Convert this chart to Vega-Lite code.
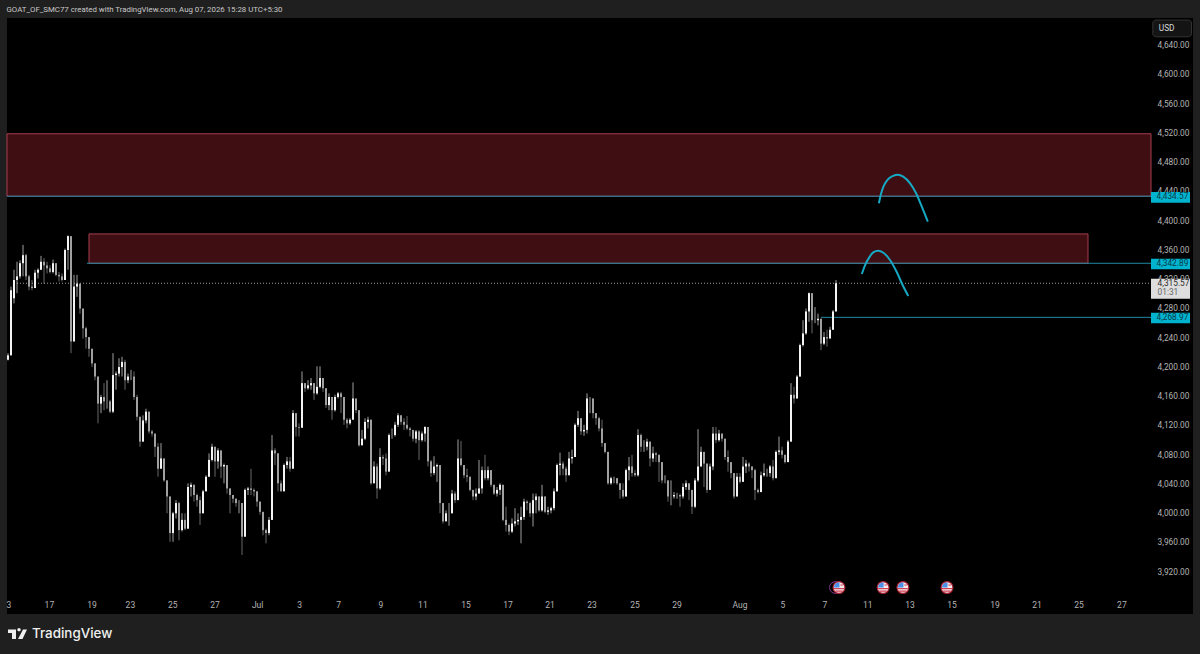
{
"$schema":"https://vega.github.io/schema/vega-lite/v6.json",
"width":1200,"height":654,
"autosize":{"type":"fit","contains":"padding"},
"padding":0,
"background":"#1f1f1f",
"config":{"view":{"stroke":null},"text":{"font":"Roboto"}},
"datasets":{
"panel":[{"i":-0.33,"i2":395,"p":4678.3,"p2":3863.3}],
"zones":[{"i":-0.33,"i2":381,"p":4520,"p2":4434.57},{"i":27,"i2":360,"p":4383,"p2":4342.89}],
"levels":[{"i":-0.33,"i2":381,"p":4434.57},{"i":26.3,"i2":381,"p":4342.89},{"i":271,"i2":381,"p":4268.97}],
"last":[{"i":2,"i2":381,"p":4315.57}],
"arcs":[
{"arc":"a","n":1,"i":290.3,"p":4424.9},{"arc":"a","n":2,"i":290.9,"p":4436.2},{"arc":"a","n":3,"i":291.8,"p":4447.6},{"arc":"a","n":4,"i":293.1,"p":4456.7},{"arc":"a","n":5,"i":294.9,"p":4462.2},{"arc":"a","n":6,"i":296.6,"p":4464},{"arc":"a","n":7,"i":298.4,"p":4461.3},{"arc":"a","n":8,"i":300.7,"p":4452.2},{"arc":"a","n":9,"i":302.7,"p":4438.6},{"arc":"a","n":10,"i":304.6,"p":4420.2},{"arc":"a","n":11,"i":306.6,"p":4399.7},
{"arc":"b","n":1,"i":284.6,"p":4328.2},{"arc":"b","n":2,"i":285.7,"p":4340.5},{"arc":"b","n":3,"i":287.1,"p":4351},{"arc":"b","n":4,"i":288.4,"p":4357.9},{"arc":"b","n":5,"i":290.1,"p":4360.1},{"arc":"b","n":6,"i":291.8,"p":4357.3},{"arc":"b","n":7,"i":294,"p":4347.4},{"arc":"b","n":8,"i":296.2,"p":4331.3},{"arc":"b","n":9,"i":298.2,"p":4313.2},{"arc":"b","n":10,"i":300.1,"p":4298.1}],
"priceTicks":[{"i":383.2,"p":4640,"label":"4,640.00"},{"i":383.2,"p":4600,"label":"4,600.00"},{"i":383.2,"p":4560,"label":"4,560.00"},{"i":383.2,"p":4520,"label":"4,520.00"},{"i":383.2,"p":4480,"label":"4,480.00"},{"i":383.2,"p":4440,"label":"4,440.00"},{"i":383.2,"p":4400,"label":"4,400.00"},{"i":383.2,"p":4360,"label":"4,360.00"},{"i":383.2,"p":4320,"label":"4,320.00"},{"i":383.2,"p":4280,"label":"4,280.00"},{"i":383.2,"p":4240,"label":"4,240.00"},{"i":383.2,"p":4200,"label":"4,200.00"},{"i":383.2,"p":4160,"label":"4,160.00"},{"i":383.2,"p":4120,"label":"4,120.00"},{"i":383.2,"p":4080,"label":"4,080.00"},{"i":383.2,"p":4040,"label":"4,040.00"},{"i":383.2,"p":4000,"label":"4,000.00"},{"i":383.2,"p":3960,"label":"3,960.00"},{"i":383.2,"p":3920,"label":"3,920.00"}],
"badges":[{"i":381,"i2":394,"p":4440.3,"p2":4425.7,"label":"4,434.57","tp":4433},{"i":381,"i2":394,"p":4349.1,"p2":4334.6,"label":"4,342.89","tp":4341.9},{"i":381,"i2":394,"p":4275.3,"p2":4260.8,"label":"4,268.97","tp":4268}],
"lastBox":[{"i":381,"i2":394,"p":4321.8,"p2":4294.4}],
"lastText":[{"i":383.2,"p":4315,"label":"4,315.57","kind":"price"},{"i":383.2,"p":4302.5,"label":"01:31","kind":"count"}],
"usd":[{"i":381.6,"i2":394.5,"p":4675.5,"p2":4652.6}],
"usdText":[{"i":383.6,"p":4663.2,"label":"USD"}],
"header":[{"i":-0.5,"p":4689.9,"label":"GOAT_OF_SMC77 created with TradingView.com, Aug 07, 2026 15:28 UTC+5:30"}],
"timeTicks":[{"i":0.3,"p":3875.6,"label":"3"},{"i":13.8,"p":3875.6,"label":"17"},{"i":28,"p":3875.6,"label":"19"},{"i":40.8,"p":3875.6,"label":"23"},{"i":54.9,"p":3875.6,"label":"25"},{"i":69,"p":3875.6,"label":"27"},{"i":83.2,"p":3875.6,"label":"Jul"},{"i":97.2,"p":3875.6,"label":"3"},{"i":110.2,"p":3875.6,"label":"7"},{"i":124.3,"p":3875.6,"label":"9"},{"i":138.3,"p":3875.6,"label":"11"},{"i":152.7,"p":3875.6,"label":"15"},{"i":166.7,"p":3875.6,"label":"17"},{"i":180.7,"p":3875.6,"label":"21"},{"i":194.7,"p":3875.6,"label":"23"},{"i":209,"p":3875.6,"label":"25"},{"i":223,"p":3875.6,"label":"29"},{"i":244,"p":3875.6,"label":"Aug"},{"i":258.3,"p":3875.6,"label":"5"},{"i":272.3,"p":3875.6,"label":"7"},{"i":286.6,"p":3875.6,"label":"11"},{"i":300.7,"p":3875.6,"label":"13"},{"i":314.7,"p":3875.6,"label":"15"},{"i":329,"p":3875.6,"label":"19"},{"i":343,"p":3875.6,"label":"21"},{"i":357,"p":3875.6,"label":"25"},{"i":371.3,"p":3875.6,"label":"27"}],
"eventsPast":[{"i":275.8,"p":3899.5}],
"events":[{"i":277,"p":3899.5},{"i":291.7,"p":3899.5},{"i":298.3,"p":3899.5},{"i":313,"p":3899.5}],
"brand":[{"i":3.17,"p":3835.9}],
"brandText":[{"i":8,"p":3835.9,"label":"TradingView"}],
"candles":[
{"i":0,"o":4211,"h":4220,"l":4210,"c":4217},{"i":1,"o":4217,"h":4311,"l":4217,"c":4306},{"i":2,"o":4295,"h":4334,"l":4288,"c":4320},{"i":3,"o":4320,"h":4345,"l":4302,"c":4325},{"i":4,"o":4325,"h":4347,"l":4322,"c":4343},{"i":5,"o":4343,"h":4368,"l":4325,"c":4354},{"i":6,"o":4354,"h":4356,"l":4320,"c":4325},{"i":7,"o":4325,"h":4327,"l":4306,"c":4311},{"i":8,"o":4311,"h":4320,"l":4306,"c":4309},{"i":9,"o":4309,"h":4334,"l":4309,"c":4330},
{"i":10,"o":4330,"h":4336,"l":4322,"c":4334},{"i":11,"o":4334,"h":4353,"l":4334,"c":4345},{"i":12,"o":4345,"h":4350,"l":4315,"c":4340},{"i":13,"o":4340,"h":4345,"l":4329,"c":4336},{"i":14,"o":4336,"h":4340,"l":4329,"c":4331},{"i":15,"o":4331,"h":4348,"l":4329,"c":4343},{"i":16,"o":4343,"h":4343,"l":4325,"c":4327},{"i":17,"o":4327,"h":4331,"l":4318,"c":4325},{"i":18,"o":4325,"h":4329,"l":4318,"c":4320},{"i":19,"o":4320,"h":4363,"l":4320,"c":4361},
{"i":20,"o":4361,"h":4381,"l":4334,"c":4380},{"i":21,"o":4380,"h":4380,"l":4220,"c":4236},{"i":22,"o":4236,"h":4327,"l":4236,"c":4311},{"i":23,"o":4311,"h":4327,"l":4297,"c":4315},{"i":24,"o":4315,"h":4315,"l":4274,"c":4281},{"i":25,"o":4281,"h":4281,"l":4240,"c":4254},{"i":26,"o":4254,"h":4256,"l":4226,"c":4242},{"i":27,"o":4242,"h":4242,"l":4215,"c":4226},{"i":28,"o":4226,"h":4226,"l":4201,"c":4206},{"i":29,"o":4206,"h":4206,"l":4183,"c":4188},
{"i":30,"o":4188,"h":4188,"l":4124,"c":4151},{"i":31,"o":4151,"h":4163,"l":4138,"c":4160},{"i":32,"o":4160,"h":4179,"l":4142,"c":4154},{"i":33,"o":4154,"h":4183,"l":4144,"c":4154},{"i":34,"o":4154,"h":4156,"l":4138,"c":4140},{"i":35,"o":4140,"h":4220,"l":4138,"c":4190},{"i":36,"o":4190,"h":4195,"l":4170,"c":4192},{"i":37,"o":4192,"h":4213,"l":4188,"c":4201},{"i":38,"o":4201,"h":4215,"l":4188,"c":4208},{"i":39,"o":4208,"h":4211,"l":4170,"c":4183},
{"i":40,"o":4183,"h":4192,"l":4179,"c":4188},{"i":41,"o":4188,"h":4197,"l":4183,"c":4188},{"i":42,"o":4188,"h":4195,"l":4156,"c":4160},{"i":43,"o":4160,"h":4163,"l":4128,"c":4133},{"i":44,"o":4133,"h":4133,"l":4092,"c":4099},{"i":45,"o":4099,"h":4135,"l":4099,"c":4128},{"i":46,"o":4128,"h":4144,"l":4124,"c":4140},{"i":47,"o":4140,"h":4140,"l":4110,"c":4113},{"i":48,"o":4113,"h":4115,"l":4106,"c":4110},{"i":49,"o":4110,"h":4110,"l":4078,"c":4092},
{"i":50,"o":4092,"h":4097,"l":4051,"c":4062},{"i":51,"o":4062,"h":4097,"l":4062,"c":4076},{"i":52,"o":4076,"h":4076,"l":4044,"c":4046},{"i":53,"o":4046,"h":4046,"l":4001,"c":4024},{"i":54,"o":4024,"h":4024,"l":3962,"c":3974},{"i":55,"o":3974,"h":4003,"l":3962,"c":4001},{"i":56,"o":4001,"h":4019,"l":3994,"c":4015},{"i":57,"o":4015,"h":4017,"l":3964,"c":3978},{"i":58,"o":3978,"h":4001,"l":3976,"c":3992},{"i":59,"o":3992,"h":4001,"l":3978,"c":3980},
{"i":60,"o":3980,"h":4042,"l":3980,"c":4037},{"i":61,"o":4037,"h":4043,"l":4024,"c":4040},{"i":62,"o":4040,"h":4040,"l":4017,"c":4026},{"i":63,"o":4026,"h":4028,"l":4010,"c":4019},{"i":64,"o":4019,"h":4024,"l":3985,"c":4001},{"i":65,"o":4001,"h":4033,"l":4001,"c":4031},{"i":66,"o":4031,"h":4053,"l":4031,"c":4051},{"i":67,"o":4051,"h":4083,"l":4051,"c":4074},{"i":68,"o":4074,"h":4096,"l":4072,"c":4092},{"i":69,"o":4092,"h":4092,"l":4051,"c":4072},
{"i":70,"o":4072,"h":4090,"l":4062,"c":4087},{"i":71,"o":4087,"h":4087,"l":4049,"c":4065},{"i":72,"o":4065,"h":4069,"l":4042,"c":4067},{"i":73,"o":4067,"h":4067,"l":4028,"c":4035},{"i":74,"o":4035,"h":4035,"l":4001,"c":4026},{"i":75,"o":4026,"h":4026,"l":4015,"c":4021},{"i":76,"o":4021,"h":4021,"l":4010,"c":4015},{"i":77,"o":4015,"h":4019,"l":4001,"c":4015},{"i":78,"o":4015,"h":4015,"l":3944,"c":3969},{"i":79,"o":3969,"h":4035,"l":3969,"c":4033},
{"i":80,"o":4033,"h":4037,"l":4026,"c":4035},{"i":81,"o":4035,"h":4062,"l":4026,"c":4033},{"i":82,"o":4033,"h":4035,"l":4024,"c":4031},{"i":83,"o":4031,"h":4031,"l":4010,"c":4017},{"i":84,"o":4017,"h":4017,"l":3999,"c":4003},{"i":85,"o":4003,"h":4003,"l":3971,"c":3978},{"i":86,"o":3978,"h":3980,"l":3960,"c":3974},{"i":87,"o":3974,"h":3996,"l":3971,"c":3992},{"i":88,"o":3992,"h":4108,"l":3992,"c":4087},{"i":89,"o":4087,"h":4090,"l":4067,"c":4083},
{"i":90,"o":4083,"h":4083,"l":4031,"c":4042},{"i":91,"o":4042,"h":4046,"l":4031,"c":4031},{"i":92,"o":4031,"h":4069,"l":4031,"c":4067},{"i":93,"o":4067,"h":4078,"l":4062,"c":4072},{"i":94,"o":4072,"h":4078,"l":4058,"c":4062},{"i":95,"o":4062,"h":4142,"l":4062,"c":4138},{"i":96,"o":4138,"h":4138,"l":4106,"c":4119},{"i":97,"o":4119,"h":4124,"l":4106,"c":4118},{"i":98,"o":4118,"h":4195,"l":4118,"c":4179},{"i":99,"o":4179,"h":4179,"l":4167,"c":4172},
{"i":100,"o":4172,"h":4183,"l":4170,"c":4176},{"i":101,"o":4176,"h":4186,"l":4170,"c":4179},{"i":102,"o":4179,"h":4179,"l":4156,"c":4165},{"i":103,"o":4165,"h":4202,"l":4163,"c":4174},{"i":104,"o":4174,"h":4202,"l":4172,"c":4186},{"i":105,"o":4186,"h":4186,"l":4167,"c":4172},{"i":106,"o":4172,"h":4172,"l":4145,"c":4149},{"i":107,"o":4149,"h":4165,"l":4142,"c":4160},{"i":108,"o":4160,"h":4160,"l":4129,"c":4142},{"i":109,"o":4142,"h":4163,"l":4140,"c":4160},
{"i":110,"o":4160,"h":4167,"l":4158,"c":4165},{"i":111,"o":4165,"h":4167,"l":4138,"c":4160},{"i":112,"o":4160,"h":4160,"l":4122,"c":4129},{"i":113,"o":4129,"h":4131,"l":4117,"c":4124},{"i":114,"o":4124,"h":4131,"l":4122,"c":4129},{"i":115,"o":4129,"h":4180,"l":4129,"c":4158},{"i":116,"o":4158,"h":4158,"l":4138,"c":4142},{"i":117,"o":4142,"h":4142,"l":4092,"c":4094},{"i":118,"o":4094,"h":4115,"l":4094,"c":4103},{"i":119,"o":4103,"h":4131,"l":4101,"c":4126},
{"i":120,"o":4126,"h":4133,"l":4117,"c":4129},{"i":121,"o":4129,"h":4129,"l":4040,"c":4042},{"i":122,"o":4042,"h":4072,"l":4042,"c":4065},{"i":123,"o":4065,"h":4069,"l":4021,"c":4035},{"i":124,"o":4035,"h":4090,"l":4033,"c":4078},{"i":125,"o":4078,"h":4081,"l":4067,"c":4076},{"i":126,"o":4076,"h":4083,"l":4053,"c":4058},{"i":127,"o":4058,"h":4110,"l":4058,"c":4108},{"i":128,"o":4108,"h":4117,"l":4103,"c":4108},{"i":129,"o":4108,"h":4126,"l":4106,"c":4122},
{"i":130,"o":4122,"h":4138,"l":4119,"c":4135},{"i":131,"o":4135,"h":4135,"l":4122,"c":4126},{"i":132,"o":4126,"h":4131,"l":4115,"c":4122},{"i":133,"o":4122,"h":4134,"l":4115,"c":4117},{"i":134,"o":4117,"h":4119,"l":4106,"c":4115},{"i":135,"o":4115,"h":4115,"l":4099,"c":4103},{"i":136,"o":4103,"h":4115,"l":4097,"c":4113},{"i":137,"o":4113,"h":4115,"l":4074,"c":4101},{"i":138,"o":4101,"h":4113,"l":4099,"c":4110},{"i":139,"o":4110,"h":4120,"l":4099,"c":4119},
{"i":140,"o":4119,"h":4119,"l":4065,"c":4072},{"i":141,"o":4072,"h":4074,"l":4051,"c":4056},{"i":142,"o":4056,"h":4079,"l":4053,"c":4065},{"i":143,"o":4065,"h":4069,"l":4044,"c":4067},{"i":144,"o":4067,"h":4067,"l":4001,"c":4015},{"i":145,"o":4015,"h":4015,"l":3987,"c":3990},{"i":146,"o":3990,"h":4005,"l":3990,"c":4001},{"i":147,"o":4001,"h":4015,"l":3984,"c":4001},{"i":148,"o":4001,"h":4033,"l":4001,"c":4028},{"i":149,"o":4028,"h":4031,"l":4015,"c":4019},
{"i":150,"o":4019,"h":4102,"l":4019,"c":4076},{"i":151,"o":4076,"h":4100,"l":4065,"c":4067},{"i":152,"o":4067,"h":4067,"l":4049,"c":4053},{"i":153,"o":4053,"h":4062,"l":4044,"c":4051},{"i":154,"o":4051,"h":4051,"l":4031,"c":4033},{"i":155,"o":4033,"h":4033,"l":4019,"c":4024},{"i":156,"o":4024,"h":4035,"l":4019,"c":4028},{"i":157,"o":4028,"h":4074,"l":4028,"c":4035},{"i":158,"o":4035,"h":4065,"l":4028,"c":4060},{"i":159,"o":4060,"h":4081,"l":4046,"c":4049},
{"i":160,"o":4049,"h":4065,"l":4046,"c":4060},{"i":161,"o":4060,"h":4060,"l":4037,"c":4040},{"i":162,"o":4040,"h":4040,"l":4026,"c":4028},{"i":163,"o":4028,"h":4037,"l":4024,"c":4033},{"i":164,"o":4033,"h":4042,"l":4026,"c":4040},{"i":165,"o":4040,"h":4040,"l":3990,"c":3992},{"i":166,"o":3992,"h":4010,"l":3976,"c":3985},{"i":167,"o":3985,"h":3987,"l":3971,"c":3976},{"i":168,"o":3976,"h":3994,"l":3974,"c":3987},{"i":169,"o":3987,"h":4008,"l":3983,"c":3990},
{"i":170,"o":3990,"h":4001,"l":3985,"c":3992},{"i":171,"o":3992,"h":4010,"l":3960,"c":3996},{"i":172,"o":3996,"h":4021,"l":3992,"c":4017},{"i":173,"o":4017,"h":4019,"l":4005,"c":4015},{"i":174,"o":4015,"h":4017,"l":3996,"c":4001},{"i":175,"o":4001,"h":4028,"l":3983,"c":4019},{"i":176,"o":4019,"h":4028,"l":4001,"c":4024},{"i":177,"o":4024,"h":4024,"l":4003,"c":4005},{"i":178,"o":4005,"h":4040,"l":4003,"c":4024},{"i":179,"o":4024,"h":4024,"l":4001,"c":4003},
{"i":180,"o":4003,"h":4010,"l":3999,"c":4005},{"i":181,"o":4005,"h":4010,"l":4001,"c":4008},{"i":182,"o":4008,"h":4035,"l":4005,"c":4031},{"i":183,"o":4031,"h":4069,"l":4031,"c":4067},{"i":184,"o":4067,"h":4084,"l":4053,"c":4069},{"i":185,"o":4069,"h":4072,"l":4053,"c":4062},{"i":186,"o":4062,"h":4065,"l":4044,"c":4053},{"i":187,"o":4053,"h":4085,"l":4053,"c":4076},{"i":188,"o":4076,"h":4088,"l":4069,"c":4078},{"i":189,"o":4078,"h":4124,"l":4078,"c":4122},
{"i":190,"o":4122,"h":4141,"l":4119,"c":4131},{"i":191,"o":4131,"h":4131,"l":4108,"c":4113},{"i":192,"o":4113,"h":4122,"l":4107,"c":4115},{"i":193,"o":4115,"h":4165,"l":4110,"c":4158},{"i":194,"o":4158,"h":4160,"l":4138,"c":4158},{"i":195,"o":4158,"h":4158,"l":4131,"c":4138},{"i":196,"o":4138,"h":4138,"l":4122,"c":4131},{"i":197,"o":4131,"h":4133,"l":4113,"c":4117},{"i":198,"o":4117,"h":4129,"l":4092,"c":4097},{"i":199,"o":4097,"h":4097,"l":4083,"c":4085},
{"i":200,"o":4085,"h":4085,"l":4040,"c":4042},{"i":201,"o":4042,"h":4051,"l":4040,"c":4049},{"i":202,"o":4049,"h":4051,"l":4042,"c":4049},{"i":203,"o":4049,"h":4049,"l":4040,"c":4042},{"i":204,"o":4042,"h":4042,"l":4021,"c":4033},{"i":205,"o":4033,"h":4042,"l":4021,"c":4024},{"i":206,"o":4024,"h":4062,"l":4024,"c":4060},{"i":207,"o":4060,"h":4078,"l":4046,"c":4065},{"i":208,"o":4065,"h":4081,"l":4051,"c":4056},{"i":209,"o":4056,"h":4060,"l":4051,"c":4053},
{"i":210,"o":4053,"h":4116,"l":4051,"c":4108},{"i":211,"o":4108,"h":4110,"l":4085,"c":4092},{"i":212,"o":4092,"h":4101,"l":4085,"c":4092},{"i":213,"o":4092,"h":4103,"l":4087,"c":4099},{"i":214,"o":4099,"h":4099,"l":4065,"c":4076},{"i":215,"o":4076,"h":4092,"l":4071,"c":4083},{"i":216,"o":4083,"h":4085,"l":4071,"c":4081},{"i":217,"o":4081,"h":4081,"l":4044,"c":4071},{"i":218,"o":4071,"h":4071,"l":4042,"c":4046},{"i":219,"o":4046,"h":4053,"l":4042,"c":4046},
{"i":220,"o":4046,"h":4046,"l":4017,"c":4024},{"i":221,"o":4024,"h":4046,"l":4012,"c":4024},{"i":222,"o":4024,"h":4030,"l":4021,"c":4026},{"i":223,"o":4026,"h":4029,"l":4021,"c":4026},{"i":224,"o":4026,"h":4028,"l":4010,"c":4024},{"i":225,"o":4024,"h":4042,"l":4021,"c":4037},{"i":226,"o":4037,"h":4046,"l":4033,"c":4042},{"i":227,"o":4042,"h":4042,"l":4019,"c":4033},{"i":228,"o":4033,"h":4033,"l":4000,"c":4010},{"i":229,"o":4010,"h":4049,"l":4008,"c":4046},
{"i":230,"o":4046,"h":4116,"l":4044,"c":4065},{"i":231,"o":4065,"h":4092,"l":4065,"c":4085},{"i":232,"o":4085,"h":4085,"l":4037,"c":4069},{"i":233,"o":4069,"h":4069,"l":4029,"c":4033},{"i":234,"o":4033,"h":4069,"l":4033,"c":4065},{"i":235,"o":4065,"h":4119,"l":4060,"c":4110},{"i":236,"o":4110,"h":4119,"l":4097,"c":4101},{"i":237,"o":4101,"h":4115,"l":4099,"c":4110},{"i":238,"o":4110,"h":4110,"l":4099,"c":4103},{"i":239,"o":4103,"h":4103,"l":4074,"c":4078},
{"i":240,"o":4078,"h":4087,"l":4058,"c":4071},{"i":241,"o":4071,"h":4071,"l":4049,"c":4056},{"i":242,"o":4056,"h":4056,"l":4021,"c":4024},{"i":243,"o":4024,"h":4056,"l":4024,"c":4051},{"i":244,"o":4051,"h":4056,"l":4042,"c":4044},{"i":245,"o":4044,"h":4078,"l":4044,"c":4065},{"i":246,"o":4065,"h":4074,"l":4056,"c":4069},{"i":247,"o":4069,"h":4071,"l":4058,"c":4065},{"i":248,"o":4065,"h":4065,"l":4049,"c":4060},{"i":249,"o":4060,"h":4062,"l":4019,"c":4033},
{"i":250,"o":4033,"h":4035,"l":4028,"c":4030},{"i":251,"o":4030,"h":4058,"l":4030,"c":4053},{"i":252,"o":4053,"h":4069,"l":4051,"c":4056},{"i":253,"o":4056,"h":4062,"l":4051,"c":4056},{"i":254,"o":4056,"h":4067,"l":4051,"c":4065},{"i":255,"o":4065,"h":4074,"l":4046,"c":4049},{"i":256,"o":4049,"h":4087,"l":4049,"c":4085},{"i":257,"o":4085,"h":4106,"l":4081,"c":4087},{"i":258,"o":4087,"h":4092,"l":4076,"c":4081},{"i":259,"o":4081,"h":4081,"l":4069,"c":4071},
{"i":260,"o":4071,"h":4101,"l":4071,"c":4099},{"i":261,"o":4099,"h":4179,"l":4099,"c":4163},{"i":262,"o":4163,"h":4174,"l":4151,"c":4158},{"i":263,"o":4158,"h":4190,"l":4158,"c":4188},{"i":264,"o":4188,"h":4233,"l":4188,"c":4231},{"i":265,"o":4231,"h":4265,"l":4229,"c":4247},{"i":266,"o":4247,"h":4281,"l":4245,"c":4277},{"i":267,"o":4277,"h":4303,"l":4263,"c":4302},{"i":268,"o":4302,"h":4302,"l":4247,"c":4265},{"i":269,"o":4265,"h":4283,"l":4261,"c":4265},
{"i":270,"o":4265,"h":4274,"l":4258,"c":4267},{"i":271,"o":4267,"h":4267,"l":4224,"c":4233},{"i":272,"o":4233,"h":4249,"l":4231,"c":4242},{"i":273,"o":4242,"h":4252,"l":4229,"c":4240},{"i":274,"o":4240,"h":4256,"l":4240,"c":4252},{"i":275,"o":4252,"h":4279,"l":4252,"c":4277},{"i":276,"o":4277,"h":4320,"l":4277,"c":4315.57}
]
},
"encoding":{
"x":{"field":"i","type":"quantitative","axis":null,"scale":{"domain":[-2.667,397.333],"nice":false,"zero":false}},
"y":{"field":"p","type":"quantitative","axis":null,"scale":{"domain":[3808.6,4702.9],"nice":false,"zero":false}}
},
"layer":[
{"data":{"name":"panel"},"mark":{"type":"rect","fill":"#000000"},"encoding":{"x2":{"field":"i2"},"y2":{"field":"p2"}}},
{"data":{"name":"zones"},"mark":{"type":"rect","fill":"#3f0e13","stroke":"#a83d4f","strokeWidth":1},"encoding":{"x2":{"field":"i2"},"y2":{"field":"p2"}}},
{"data":{"name":"levels"},"mark":{"type":"rule","stroke":"#1f8aa4","strokeWidth":1},"encoding":{"x2":{"field":"i2"}}},
{"data":{"name":"last"},"mark":{"type":"rule","stroke":"#9a9a9a","strokeWidth":1,"strokeDash":[1,2]},"encoding":{"x2":{"field":"i2"}}},
{"data":{"name":"candles"},"mark":{"type":"rule","strokeWidth":1,"opacity":0.65},"encoding":{
"y":{"field":"l","type":"quantitative","axis":null,"scale":{"domain":[3808.6,4702.9],"nice":false,"zero":false}},
"y2":{"field":"h"},
"color":{"condition":{"test":"datum.c>=datum.o","value":"#f4f4f4"},"value":"#a0a0a0"}}},
{"data":{"name":"candles"},"mark":{"type":"rule","strokeWidth":2},"encoding":{
"y":{"field":"o","type":"quantitative","axis":null,"scale":{"domain":[3808.6,4702.9],"nice":false,"zero":false}},
"y2":{"field":"c"},
"color":{"condition":{"test":"datum.c>=datum.o","value":"#f4f4f4"},"value":"#a0a0a0"}}},
{"data":{"name":"arcs"},"mark":{"type":"line","stroke":"#16a9c4","strokeWidth":2,"interpolate":"monotone"},"encoding":{"detail":{"field":"arc"},"order":{"field":"n"}}},
{"data":{"name":"priceTicks"},"mark":{"type":"text","align":"left","baseline":"middle","fontSize":8.3,"color":"#b4b4b4"},"encoding":{"text":{"field":"label"}}},
{"data":{"name":"badges"},"mark":{"type":"rect","fill":"#00b4d0"},"encoding":{"x2":{"field":"i2"},"y2":{"field":"p2"}}},
{"data":{"name":"badges"},"mark":{"type":"text","align":"left","baseline":"middle","fontSize":8.3,"dx":5.5,"color":"#0c3a46"},"encoding":{"y":{"field":"tp","type":"quantitative","axis":null,"scale":{"domain":[3808.6,4702.9],"nice":false,"zero":false}},"text":{"field":"label"}}},
{"data":{"name":"lastBox"},"mark":{"type":"rect","fill":"#dedede"},"encoding":{"x2":{"field":"i2"},"y2":{"field":"p2"}}},
{"data":{"name":"lastText"},"mark":{"type":"text","align":"left","baseline":"middle","fontSize":8.3},"encoding":{"text":{"field":"label"},"color":{"field":"kind","type":"nominal","legend":null,"scale":{"domain":["price","count"],"range":["#2a2a2a","#666666"]}}}},
{"data":{"name":"usd"},"mark":{"type":"rect","fill":"#141414","stroke":"#333333","cornerRadius":3},"encoding":{"x2":{"field":"i2"},"y2":{"field":"p2"}}},
{"data":{"name":"usdText"},"mark":{"type":"text","align":"left","baseline":"middle","fontSize":8.3,"color":"#d8d8d8"},"encoding":{"text":{"field":"label"}}},
{"data":{"name":"header"},"mark":{"type":"text","align":"left","baseline":"middle","fontSize":7.85,"color":"#c9c9c9"},"encoding":{"text":{"field":"label"}}},
{"data":{"name":"timeTicks"},"mark":{"type":"text","align":"center","baseline":"middle","fontSize":8.5,"color":"#b4b4b4"},"encoding":{"text":{"field":"label"}}},
{"data":{"name":"eventsPast"},"mark":{"type":"point","filled":false,"stroke":"#8f3f9f","strokeWidth":1,"size":140,"opacity":0.9},"encoding":{}},
{"data":{"name":"events"},"mark":{"type":"point","filled":true,"fill":"#f1ecee","stroke":"#a51f30","strokeWidth":1.2,"size":140,"opacity":1,"shape":"circle"},"encoding":{}},
{"data":{"name":"events"},"mark":{"type":"point","filled":true,"fill":"#4a8fe8","strokeWidth":0,"size":110,"opacity":1,"shape":"M-0.95,0A0.95,0.95 0 0 1 0,-0.95L0.1,-0.95L0.1,0Z"},"encoding":{}},
{"data":{"name":"events"},"mark":{"type":"point","filled":true,"fill":"#d43f52","strokeWidth":0,"size":110,"opacity":1,"shape":"M0.25,-0.6H0.8V-0.38H0.25ZM-0.95,0.1H0.95V0.34H-0.95ZM-0.7,0.58H0.7V0.8H-0.7Z"},"encoding":{}},
{"data":{"name":"brand"},"mark":{"type":"point","filled":true,"fill":"#efefef","strokeWidth":0,"size":400,"opacity":1,"shape":"M-0.95,-0.45H-0.15V0.5H-0.55V-0.1H-0.95ZM0.15,-0.27A0.17,0.17 0 1 1 0.151,-0.27ZM0.55,-0.45H0.95L0.5,0.5H0.05Z"},"encoding":{}},
{"data":{"name":"brandText"},"mark":{"type":"text","align":"left","baseline":"middle","font":"Inter","fontSize":13.4,"fontWeight":500,"color":"#efefef"},"encoding":{"text":{"field":"label"}}}
]
}
